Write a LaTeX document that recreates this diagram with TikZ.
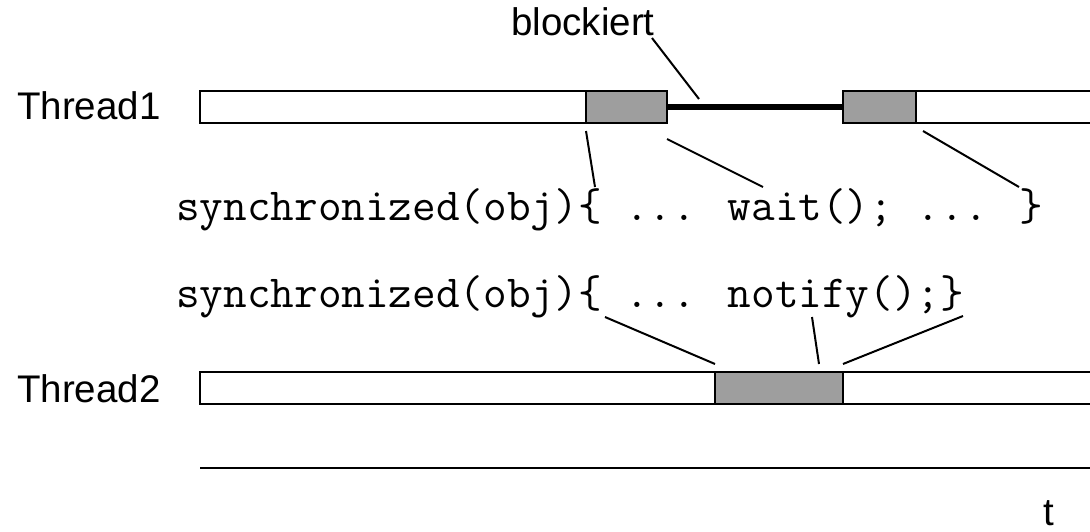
\documentclass[tikz,border=0pt]{standalone}
\usepackage{fontspec}
\setmainfont{Liberation Sans}
\begin{document}
\begin{tikzpicture}[x=1pt,y=-1pt,
  bar/.style={draw=black,line width=2pt,fill=white},
  busy/.style={draw=black,line width=2pt,fill={rgb,255:red,158;green,158;blue,158}},
  leader/.style={draw=black,line width=2pt},
  label/.style={font=\fontsize{38.5}{44}\selectfont,anchor=base west,inner sep=0pt},
  code/.style={font=\ttfamily\fontsize{45.9}{50}\selectfont,anchor=base west,inner sep=0pt}]
\useasboundingbox (0,0) rectangle (1090,532);
\clip (0,0) rectangle (1090,532);
% Thread 1
\node[label] (t1) at (17,120) {Thread1};
\draw[bar] (200,91) rectangle (586,123);
\draw[bar] (916,91) rectangle (1095,123);
\coordinate (b1ne) at (667,107);
\coordinate (b2nw) at (843,107);
\draw[line width=5.5pt] (b1ne) -- (b2nw);
\draw[busy] (586,91) rectangle (667,123);
\draw[busy] (843,91) rectangle (916,123);
% Thread 2
\node[label] (t2) at (17,402) {Thread2};
\draw[bar] (200,372) rectangle (1095,404);
\draw[busy] (715,372) rectangle (843,404);
% time axis
\coordinate (ax0) at (200,468);
\coordinate (ax1) at (1092,468);
\draw[leader] (ax0) -- (ax1);
\node[label] (t) at (1043,525) {t};
% blockiert
\node[label] (bl) at (511,36) {blockiert};
% code lines
\node[code] (c1) at (176,220) {synchronized(obj)\{ ... wait(); ... \}};
\node[code] (c2) at (176,307) {synchronized(obj)\{ ... notify();\}};
% leader line endpoints
\coordinate (p1) at (652,38);  \coordinate (q1) at (699,99);
\coordinate (p2) at (586,131); \coordinate (q2) at (595,187);
\coordinate (p3) at (667,139); \coordinate (q3) at (763,187);
\coordinate (p4) at (923,131); \coordinate (q4) at (1019,187);
\coordinate (p5) at (605,317); \coordinate (q5) at (715,364);
\coordinate (p6) at (812,317); \coordinate (q6) at (819,364);
\coordinate (p7) at (963,316); \coordinate (q7) at (843,364);
\foreach \i in {1,...,7} \draw[leader] (p\i) -- (q\i);
\end{tikzpicture}
\end{document}
